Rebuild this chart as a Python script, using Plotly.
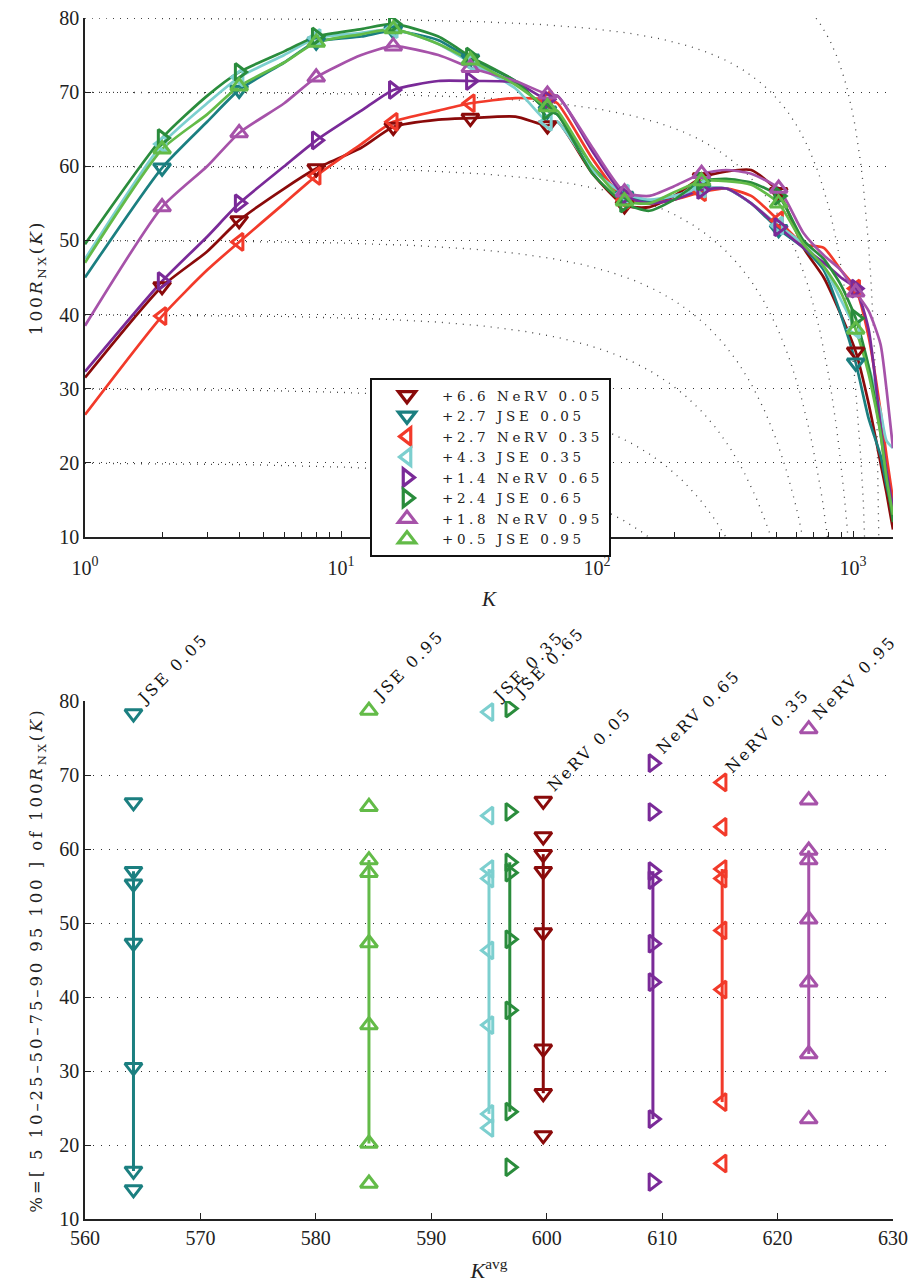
import numpy as np
import plotly.graph_objects as go
from plotly.subplots import make_subplots

# ---------------- data ----------------
K = [1, 2, 3, 4, 6, 8, 12, 16, 24, 32, 48, 64, 70, 96, 128, 160, 200, 256, 320, 400,
     512, 640, 768, 896, 1024, 1150, 1280, 1350, 1432]

names = ["NeRV 0.05", "JSE 0.05", "NeRV 0.35", "JSE 0.35",
         "NeRV 0.65", "JSE 0.65", "NeRV 0.95", "JSE 0.95"]
legend_prefix = ["+6.6", "+2.7", "+2.7", "+4.3", "+1.4", "+2.4", "+1.8", "+0.5"]

nerv_005 = [31.5, 43.8, 48.5, 52.7, 57.0, 59.7, 62.5, 65.3, 66.3, 66.5, 66.7, 65.5, 66.0, 59.0,
            54.7, 54.5, 56.0, 58.5, 59.3, 59.5, 56.5, 49.0, 45.0, 40.0, 35.0, 28.0, 20.0, 16.0, 11.0]
jse_005 = [45.0, 59.8, 66.0, 70.3, 74.0, 76.8, 77.5, 78.3, 77.0, 74.5, 71.5, 67.5, 67.0, 60.0,
           56.0, 55.3, 56.0, 57.0, 57.0, 55.0, 51.5, 49.0, 46.0, 40.0, 33.5, 26.0, 21.0, 17.0, 13.0]
nerv_035 = [26.5, 39.8, 46.0, 49.8, 55.0, 58.7, 63.0, 66.0, 67.5, 68.5, 69.2, 69.0, 68.5, 61.0,
            55.5, 55.0, 55.5, 56.5, 57.0, 56.0, 52.7, 49.5, 49.0, 46.0, 43.5, 37.0, 27.0, 21.0, 15.0]
jse_035 = [47.5, 63.0, 68.5, 72.0, 75.0, 77.3, 78.0, 78.5, 76.5, 74.0, 70.5, 66.0, 66.0, 59.5,
           56.3, 55.5, 56.0, 57.0, 57.0, 55.0, 52.0, 49.5, 46.5, 42.0, 38.0, 33.0, 27.0, 23.0, 22.0]
nerv_065 = [32.3, 44.5, 50.5, 55.0, 60.0, 63.5, 67.5, 70.3, 71.5, 71.5, 71.3, 69.0, 69.5, 62.0,
            56.0, 55.0, 55.5, 56.8, 57.0, 55.0, 51.8, 49.0, 47.0, 45.0, 43.5, 38.0, 25.0, 19.0, 14.0]
jse_065 = [49.5, 63.8, 69.5, 72.7, 75.5, 77.5, 78.5, 79.2, 77.5, 74.8, 71.5, 67.5, 67.0, 59.0,
           55.0, 54.0, 55.5, 58.0, 58.3, 57.8, 56.0, 50.0, 47.5, 44.0, 39.5, 33.0, 24.0, 18.0, 12.0]
nerv_095 = [38.5, 54.5, 60.0, 64.5, 68.5, 72.0, 75.0, 76.2, 75.0, 73.3, 71.5, 69.7, 69.5, 62.5,
            56.5, 56.0, 57.3, 59.0, 59.5, 59.0, 57.0, 51.0, 48.0, 46.0, 43.0, 40.5, 36.0, 30.0, 22.0]
jse_095 = [47.0, 62.3, 67.0, 70.8, 74.0, 76.7, 77.8, 78.5, 76.5, 74.3, 71.0, 68.0, 67.5, 60.0,
           55.3, 55.0, 56.5, 58.0, 58.0, 57.5, 55.0, 49.5, 46.5, 43.0, 38.0, 32.0, 24.0, 18.0, 13.0]
series = [nerv_005, jse_005, nerv_035, jse_035, nerv_065, jse_065, nerv_095, jse_095]

marker_K = [2, 4, 8, 16, 32, 64, 128, 256, 512, 1024]

# iso-Q_NX reference levels (N - 1 = 1433)
iso_Q = [0.2, 0.3, 0.4, 0.5, 0.6, 0.7, 0.8, 0.9]
N_minus_1 = 1433

# lower panel: K_avg and percentiles [5 10 25 50 75 90 95 100]
order2 = ["JSE 0.05", "JSE 0.95", "JSE 0.35", "JSE 0.65",
          "NeRV 0.05", "NeRV 0.65", "NeRV 0.35", "NeRV 0.95"]
K_avg = {"JSE 0.05": 564.2, "JSE 0.95": 584.6, "JSE 0.35": 595.0, "JSE 0.65": 596.8,
         "NeRV 0.05": 599.7, "NeRV 0.65": 609.2, "NeRV 0.35": 615.2, "NeRV 0.95": 622.7}
pct = {
    "JSE 0.05": [14.0, 16.5, 30.5, 47.3, 55.3, 57.0, 66.3, 78.3],
    "JSE 0.95": [14.8, 20.2, 36.2, 47.3, 56.8, 58.5, 65.7, 78.7],
    "JSE 0.35": [22.3, 24.2, 36.2, 46.3, 56.0, 57.3, 64.5, 78.5],
    "JSE 0.65": [17.0, 24.5, 38.2, 47.8, 56.8, 58.2, 65.0, 79.0],
    "NeRV 0.05": [21.3, 27.0, 33.0, 48.7, 57.0, 59.3, 61.7, 66.5],
    "NeRV 0.65": [15.0, 23.5, 42.0, 47.2, 55.8, 57.0, 65.0, 71.6],
    "NeRV 0.35": [17.5, 25.8, 41.0, 49.0, 56.0, 57.3, 63.0, 69.0],
    "NeRV 0.95": [23.5, 32.3, 42.0, 50.5, 58.5, 59.8, 66.6, 76.2],
}

# ---------------- styles ----------------
colors = {"NeRV 0.05": "#8a0a0a", "JSE 0.05": "#1b7f80", "NeRV 0.35": "#f23a2a",
          "JSE 0.35": "#7ccfcf", "NeRV 0.65": "#7a2a98", "JSE 0.65": "#2a8c3c",
          "NeRV 0.95": "#a652a9", "JSE 0.95": "#63bb48"}
symbols = {"NeRV 0.05": "triangle-down-open", "JSE 0.05": "triangle-down-open",
           "NeRV 0.35": "triangle-left-open", "JSE 0.35": "triangle-left-open",
           "NeRV 0.65": "triangle-right-open", "JSE 0.65": "triangle-right-open",
           "NeRV 0.95": "triangle-up-open", "JSE 0.95": "triangle-up-open"}
SERIF = "Liberation Serif"
WIDE = "DejaVu Serif"


def spaced(txt, px):
    return f'<span style="letter-spacing:{px}px">{txt}</span>'


fig = make_subplots(rows=2, cols=1, vertical_spacing=0.0)

# iso curves
kk = np.logspace(0, np.log10(N_minus_1 - 1), 300)
for q in iso_Q:
    r = 100 * (q * N_minus_1 - kk) / (N_minus_1 - kk)
    fig.add_trace(go.Scatter(x=kk, y=r, mode="lines", showlegend=False, hoverinfo="skip",
                             line=dict(color="#444444", width=1.3, dash="1px,6px")),
                  row=1, col=1)

# curves
for name, vals in zip(names, series):
    c = colors[name]
    fig.add_trace(go.Scatter(x=K, y=vals, mode="lines", showlegend=False,
                             line=dict(color=c, width=2.7, shape="spline", smoothing=0.6)),
                  row=1, col=1)
for name, vals in zip(names, series):
    c = colors[name]
    mx = [k for k in K if k in marker_K]
    my = [v for k, v in zip(K, vals) if k in marker_K]
    fig.add_trace(go.Scatter(x=mx, y=my, mode="markers", showlegend=False,
                             marker=dict(symbol=symbols[name], size=15, color=c,
                                         line=dict(width=3, color=c))),
                  row=1, col=1)
# legend entries
for name, pre in zip(names, legend_prefix):
    c = colors[name]
    fig.add_trace(go.Scatter(x=[None], y=[None], mode="markers",
                             name=spaced(f"{pre} {name}", 3.6),
                             marker=dict(symbol=symbols[name], size=15, color=c,
                                         line=dict(width=3.2, color=c))),
                  row=1, col=1)

# lower panel
for name in order2:
    c = colors[name]
    xa = K_avg[name]
    v = pct[name]
    fig.add_trace(go.Scatter(x=[xa] * 5, y=v[1:6], mode="lines", showlegend=False,
                             line=dict(color=c, width=3)), row=2, col=1)
    fig.add_trace(go.Scatter(x=[xa] * len(v), y=v, mode="markers", showlegend=False,
                             marker=dict(symbol=symbols[name], size=15, color=c,
                                         line=dict(width=3, color=c))), row=2, col=1)
    fig.add_annotation(x=xa, y=v[-1], xref="x2", yref="y2", text=spaced(name, 2.6),
                       showarrow=False, textangle=-45, xanchor="left", yanchor="bottom",
                       yshift=3, xshift=-3,
                       font=dict(family=WIDE, size=16, color="#111111"))

axis_common = dict(showline=True, linecolor="#222222", linewidth=1.5, ticks="inside",
                   ticklen=6, tickcolor="#222222", mirror=False, zeroline=False,
                   automargin=False,
                   tickfont=dict(family=SERIF, size=20, color="#222222"))
grid_common = dict(showgrid=True, gridcolor="#333333", gridwidth=1.2, griddash="1px,7px")

minor_vals = [m * 10 ** d for d in range(0, 4) for m in range(2, 10) if m * 10 ** d < 1432]

fig.update_xaxes(type="log", range=[0, np.log10(N_minus_1 - 1)],
                 tickmode="array", tickvals=[1, 10, 100, 1000],
                 ticktext=["10<sup>0</sup>", "10<sup>1</sup>", "10<sup>2</sup>", "10<sup>3</sup>"],
                 showgrid=False, ticklabelstandoff=12,
                 minor=dict(tickmode="array", tickvals=minor_vals, ticks="inside", ticklen=5,
                            tickwidth=1.2, tickcolor="#222222", showgrid=False),
                 title=dict(text="<i>K</i>", font=dict(family=SERIF, size=21, color="#222222"),
                            standoff=14),
                 row=1, col=1, **axis_common)
fig.update_yaxes(range=[10, 80], dtick=10, **grid_common,
                 title=dict(text=spaced("100<i>R</i><sub>NX</sub>(<i>K</i>)", 2.8),
                            font=dict(family=WIDE, size=17, color="#222222"), standoff=12),
                 row=1, col=1, **axis_common)
fig.update_xaxes(range=[560, 630], dtick=10, showgrid=False,
                 title=dict(text="<i>K</i><sup>avg</sup>",
                            font=dict(family=SERIF, size=22, color="#222222"), standoff=20),
                 row=2, col=1, **axis_common)
fig.update_yaxes(range=[10, 80], dtick=10, **grid_common,
                 title=dict(text=spaced("%=[ 5 10\u201325\u201350\u201375\u201390 95 100 ] of 100<i>R</i><sub>NX</sub>(<i>K</i>)", 2.9),
                            font=dict(family=WIDE, size=16.5, color="#222222"), standoff=12),
                 row=2, col=1, **axis_common)

H = 1283
l, r, t, b = 85, 16, 18, 64
ph = H - t - b
fig.update_layout(
    width=909, height=H, plot_bgcolor="white", paper_bgcolor="white",
    margin=dict(l=l, r=r, t=t, b=b, autoexpand=False),
    yaxis=dict(domain=[(1219 - 537) / ph, 1.0]),
    yaxis2=dict(domain=[0.0, (1219 - 701) / ph]),
    showlegend=True,
    legend=dict(x=(370 - 85) / 808, y=(1219 - 378) / ph, xanchor="left", yanchor="top",
                bordercolor="#111111", borderwidth=2, bgcolor="white",
                font=dict(family=WIDE, size=13.5, color="#222222"), tracegroupgap=0,
                itemwidth=60, itemsizing="trace"),
)

fig.write_html("out.html")
